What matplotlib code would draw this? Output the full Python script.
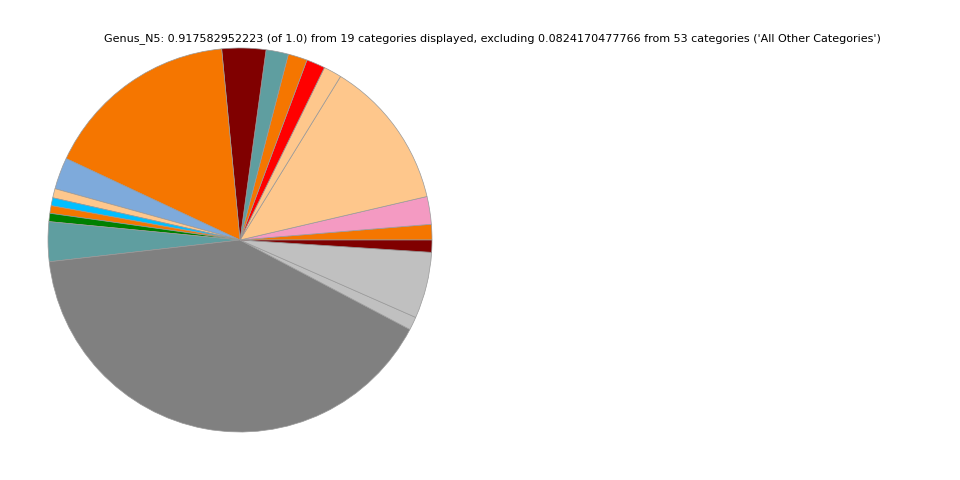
import matplotlib
matplotlib.use("Agg")
import matplotlib.pyplot as plt

# Slice fractions (of the whole), counterclockwise from 3 o'clock
values = [0.0120, 0.0214, 0.1155, 0.0140, 0.0145, 0.0148, 0.0173, 0.0339,
          0.1514, 0.0245, 0.0071, 0.0061, 0.0059, 0.0064, 0.0306, 0.3714,
          0.0102, 0.0512, 0.0094]
colors = ["#f57600", "#f49ac2", "#fec78c", "#fec78c", "#ff0000", "#f57600",
          "#5f9ea0", "#800000", "#f57600", "#7eaadb", "#fec78c", "#00bfff",
          "#f57600", "#008000", "#5f9ea0", "#808080", "#c0c0c0", "#c0c0c0",
          "#800000"]
title = ("Genus_N5: 0.917582952223 (of 1.0) from 19 categories displayed, "
         "excluding 0.0824170477766 from 53 categories ('All Other Categories')")

fig = plt.figure(figsize=(9.6, 4.8), dpi=100)
ax = fig.add_axes([48 / 960, 48 / 480, 384 / 960, 384 / 480])
ax.pie(values, colors=colors, startangle=0, counterclock=True,
       wedgeprops=dict(edgecolor="#999999", linewidth=0.5))
ax.set_xlim(-1, 1)
ax.set_ylim(-1, 1)
ax.set_aspect("equal")
fig.text(492.5 / 960, 1 - 39 / 480, title, ha="center", va="center", fontsize=8)
fig.savefig("out.png", dpi=100)
